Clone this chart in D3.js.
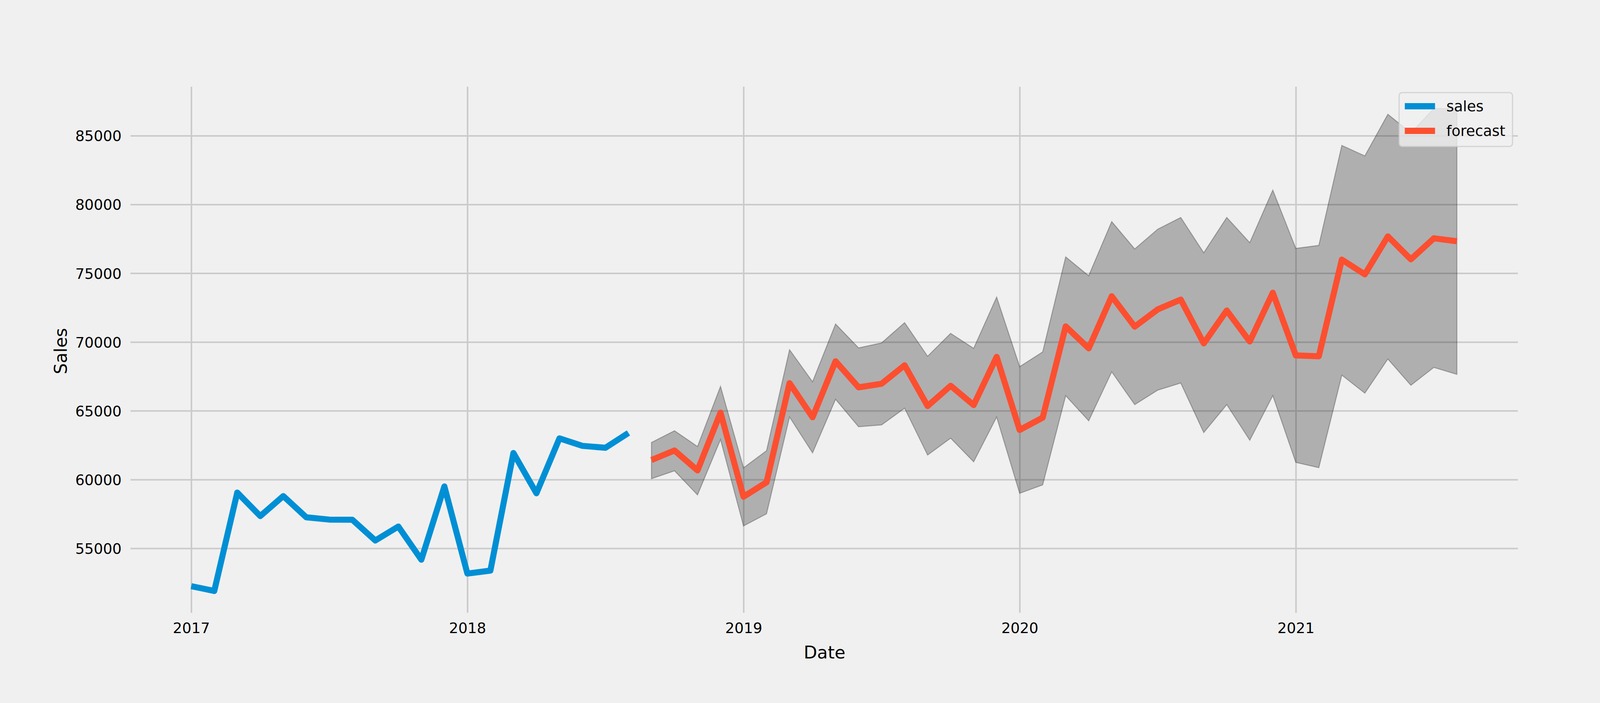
<!DOCTYPE html>
<html lang="en">

<head>
  <meta charset="UTF-8">
  <title>Sales forecast</title>
  <script src="https://cdn.jsdelivr.net/npm/d3@7/dist/d3.min.js"></script>
  <style>
    html,
    body {
      margin: 0;
      background: #f0f0f0;
      overflow: hidden;
    }

    svg {
      display: block;
    }

    text {
      font-family: 'DejaVu Sans', sans-serif;
      fill: #000;
    }

    .grid line {
      stroke: #cbcbcb;
      stroke-width: 4;
    }

    .grid .domain {
      display: none;
    }
  </style>
</head>

<body>
  <svg id="chart"></svg>

  <script>
    // monthly, first value is Jan 2017
    const salesValues = [52250, 51900, 59055, 57345, 58800, 57255, 57090, 57080, 55570, 56585, 54175, 59500,
      53165, 53380, 61930, 59005, 62995, 62450, 62310, 63390];

    // first value is Sep 2018
    const forecastStart = 20;
    const forecastValues = [61420, 62115, 60665, 64865, 58755, 59800, 67010, 64530, 68600, 66705, 66965, 68310,
      65345, 66820, 65415, 68920, 63605, 64500, 71135, 69540, 73325, 71115, 72370, 73085,
      69900, 72290, 70040, 73580, 69025, 68965, 75990, 74915, 77680, 76010, 77540, 77325];
    const upperValues = [62695, 63550, 62405, 66775, 60855, 62100, 69440, 67110, 71310, 69570, 69935, 71410,
      68965, 70630, 69540, 73265, 68210, 69280, 76190, 74815, 78755, 76765, 78200, 79055,
      76485, 79055, 77225, 81045, 76805, 77025, 84290, 83530, 86555, 85210, 86970, 86970];
    const lowerValues = [60060, 60635, 58885, 62910, 56625, 57510, 64545, 61940, 65835, 63835, 63970, 65185,
      61780, 63010, 61290, 64545, 59000, 59610, 66095, 64270, 67830, 65445, 66500, 67015,
      63415, 65445, 62855, 66100, 61245, 60865, 67590, 66280, 68765, 66855, 68150, 67650];

    const yearLabels = ["2017", "2018", "2019", "2020", "2021"];
    const yTicks = [55000, 60000, 65000, 70000, 75000, 80000, 85000];

    const seriesNames = ["sales", "forecast"];
    const seriesColors = ["#008fd5", "#fc4f30"];

    // the browser may hand us less than the 4500 we asked for, so horizontal layout follows the window
    const width = window.innerWidth;
    const height = 1800;
    const sx = width / 4500;
    const plotLeft = 367 * sx;
    const plotRight = 4269 * sx;
    const plotTop = 222;
    const plotBottom = 1569;
    const lineWidth = 15.5;
    const tickFont = 41 * sx;
    const labelFont = 49 * sx;

    const svg = d3.select("#chart")
      .attr("width", width)
      .attr("height", height);

    // the time axis is in months since Jan 2017, periods are evenly spaced
    const x = d3.scaleLinear().domain([-2.64, 57.65]).range([plotLeft, plotRight]);
    const y = d3.scaleLinear().domain([50315, 88560]).range([plotBottom, plotTop]);

    const xAxis = d3.axisBottom(x)
      .tickValues(yearLabels.map((_, i) => i * 12))
      .tickFormat((_, i) => yearLabels[i])
      .tickSize(plotTop - plotBottom)
      .tickSizeOuter(0)
      .tickPadding(0);

    const yAxis = d3.axisLeft(y)
      .tickValues(yTicks)
      .tickFormat(d3.format("d"))
      .tickSize(plotLeft - plotRight)
      .tickSizeOuter(0)
      .tickPadding(0);

    const xGroup = svg.append("g")
      .attr("class", "grid")
      .attr("transform", `translate(0,${plotBottom})`)
      .call(xAxis);
    xGroup.selectAll("text")
      .attr("font-size", tickFont)
      .attr("y", 52)
      .attr("dy", 0);

    const yGroup = svg.append("g")
      .attr("class", "grid")
      .attr("transform", `translate(${plotLeft},0)`)
      .call(yAxis);
    yGroup.selectAll("text")
      .attr("font-size", tickFont)
      .attr("x", -25 * sx)
      .attr("dy", "0.36em");

    svg.append("text")
      .attr("x", 2319 * sx)
      .attr("y", 1686)
      .attr("text-anchor", "middle")
      .attr("font-size", labelFont)
      .text("Date");

    svg.append("text")
      .attr("transform", `translate(${188 * sx},899) rotate(-90)`)
      .attr("text-anchor", "middle")
      .attr("font-size", labelFont)
      .text("Sales");

    const area = d3.area()
      .x((_, i) => x(forecastStart + i))
      .y0((_, i) => y(lowerValues[i]))
      .y1(d => y(d));

    svg.append("path")
      .datum(upperValues)
      .attr("d", d => area(d) + "Z")
      .attr("fill", "#000")
      .attr("fill-opacity", 0.27)
      .attr("stroke", "#000")
      .attr("stroke-opacity", 0.27)
      .attr("stroke-width", 2.5);

    const salesLine = d3.line()
      .x((_, i) => x(i))
      .y(d => y(d));

    const forecastLine = d3.line()
      .x((_, i) => x(forecastStart + i))
      .y(d => y(d));

    svg.append("path")
      .datum(salesValues)
      .attr("d", salesLine)
      .attr("fill", "none")
      .attr("stroke", seriesColors[0])
      .attr("stroke-width", lineWidth)
      .attr("stroke-linejoin", "round");

    svg.append("path")
      .datum(forecastValues)
      .attr("d", forecastLine)
      .attr("fill", "none")
      .attr("stroke", seriesColors[1])
      .attr("stroke-width", lineWidth)
      .attr("stroke-linejoin", "round");

    // legend
    const legend = svg.append("g");

    legend.append("rect")
      .attr("x", 3935 * sx)
      .attr("y", 237)
      .attr("width", 319 * sx)
      .attr("height", 138)
      .attr("rx", 8)
      .attr("fill", "#f0f0f0")
      .attr("fill-opacity", 0.8)
      .attr("stroke", "#cccccc")
      .attr("stroke-opacity", 0.8)
      .attr("stroke-width", 3);

    seriesNames.forEach((name, i) => {
      const rowY = 272 + i * 63;
      legend.append("line")
        .attr("x1", 3951 * sx)
        .attr("x2", 4036 * sx)
        .attr("y1", rowY)
        .attr("y2", rowY)
        .attr("stroke", seriesColors[i])
        .attr("stroke-width", 16);
      legend.append("text")
        .attr("x", 4068 * sx)
        .attr("y", rowY + 13)
        .attr("font-size", tickFont)
        .text(name);
    });
  </script>
</body>

</html>
